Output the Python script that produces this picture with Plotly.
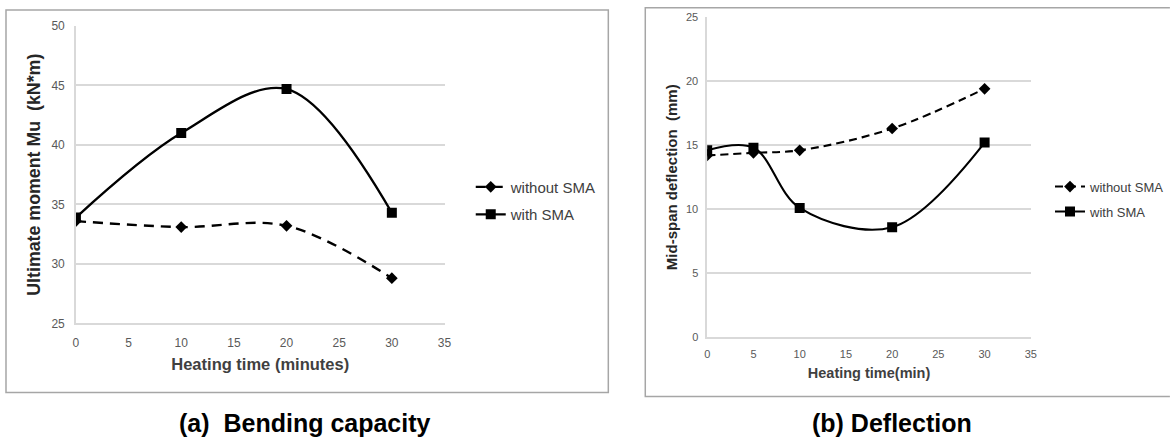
import plotly.graph_objects as go

# ---- data ----
time_a = [0, 10, 20, 30]
moment_without = [33.6, 33.1, 33.2, 28.8]
moment_with = [33.9, 41.0, 44.7, 34.3]

time_b = [0, 5, 10, 20, 30]
defl_without = [14.2, 14.4, 14.6, 16.3, 19.4]
defl_with = [14.6, 14.8, 10.1, 8.6, 15.2]

series_names = ["without SMA", "with SMA"]
caption_a = "(a)  Bending capacity"
caption_b = "(b) Deflection"

W, H = 1170, 440
# the photographed page comes out slightly shrunk and padded; compensate
SX, BX = 0.99, 3.0
SY, BY = 0.967, 6.0
def pxf(x):          # figure-pixel -> paper
    return x / W
def pyf(y):
    return 1 - y / H
def px(x):           # reference-pixel -> paper
    return pxf((x - BX) / SX)
def py(y):
    return pyf((y - BY) / SY)

FONT = "Liberation Sans"
TICK = "#595959"
GRID = "#d9d9d9"

fig = go.Figure()

def add_pair(xs, y_wo, y_w, xa, ya, leg, dash, lw):
    fig.add_trace(go.Scatter(
        x=xs, y=y_wo, name=series_names[0], xaxis=xa, yaxis=ya, legend=leg,
        legendgroup=leg + "a",
        mode="lines+markers", line=dict(color="black", width=lw, dash=dash, shape="spline", smoothing=1),
        marker=dict(symbol="diamond", size=9, color="black")))
    fig.add_trace(go.Scatter(
        x=xs, y=y_w, name=series_names[1], xaxis=xa, yaxis=ya, legend=leg,
        legendgroup=leg + "b",
        mode="lines+markers", line=dict(color="black", width=lw, shape="spline", smoothing=1),
        marker=dict(symbol="square", size=10, color="black")))

add_pair(time_a, moment_without, moment_with, "x", "y", "legend", "10px,7px", 2.4)
add_pair(time_b, defl_without, defl_with, "x2", "y2", "legend2", "8px,5px", 2.1)

def xaxis_cfg(domain, anchor, title, tsize, ftsize, tstand, standoff):
    return dict(domain=domain, range=[0, 35], dtick=5, anchor=anchor,
                showgrid=False, showline=True, linecolor=GRID, linewidth=1.5,
                ticks="", zeroline=False, ticklabelstandoff=tstand,
                tickfont=dict(family=FONT, color=TICK, size=ftsize),
                title=dict(text="<b>" + title + "</b>", font=dict(size=tsize, color="#404040"), standoff=standoff))

def yaxis_cfg(domain, anchor, rng, title, tsize, ftsize, tstand, standoff):
    return dict(domain=domain, range=rng, dtick=5, anchor=anchor,
                showgrid=True, gridcolor=GRID, gridwidth=1.5, showline=True, linecolor=GRID, linewidth=1.5,
                zeroline=False, ticks="", ticklabelstandoff=tstand,
                tickfont=dict(family=FONT, color=TICK, size=ftsize),
                title=dict(text="<b>" + title + "</b>", font=dict(size=tsize, color="#262626"), standoff=standoff))

fig.update_layout(
    width=W, height=H, margin=dict(l=0, r=0, t=0, b=0),
    paper_bgcolor="white", plot_bgcolor="white",
    font=dict(family=FONT, color="#404040"),
    xaxis=xaxis_cfg([px(76), px(445)], "y", "Heating time (minutes)", 16.5, 12, 7, 10),
    yaxis=yaxis_cfg([py(322), py(25)], "x", [25, 50], "Ultimate moment Mu  (kN*m)", 17.8, 12, 7, 6),
    xaxis2=xaxis_cfg([px(708), px(1032)], "y2", "Heating time(min)", 14.5, 11, 6, 8),
    yaxis2=yaxis_cfg([py(336), py(16)], "x2", [0, 25], "Mid-span deflection  (mm)", 15, 11, 5, 5),
    legend=dict(x=pxf(473), xanchor="left", y=pyf(169), yanchor="top", bgcolor="rgba(0,0,0,0)",
                font=dict(size=15, color="#404040", family=FONT), tracegroupgap=5, itemwidth=30),
    legend2=dict(x=pxf(1059), xanchor="left", y=pyf(170), yanchor="top", bgcolor="rgba(0,0,0,0)",
                 font=dict(size=13, color="#404040", family=FONT), tracegroupgap=5, itemwidth=30),
    showlegend=True,
)

# panel borders
fig.add_shape(type="rect", xref="paper", yref="paper", x0=px(6), x1=px(609), y0=py(391), y1=py(9),
              line=dict(color="#a6a6a6", width=1.5))
fig.add_shape(type="path", xref="paper", yref="paper",
              path=f"M {pxf(1180)},{pyf(0.8)} L {px(646)},{pyf(0.8)} L {px(646)},{py(395)} L {pxf(1180)},{py(395)}",
              line=dict(color="#a6a6a6", width=1.5))

fig.add_annotation(text="<b>" + caption_a + "</b>", xref="paper", yref="paper", x=px(305), y=pyf(429.5),
                   showarrow=False, font=dict(size=25, family=FONT, color="black"), xanchor="center", yanchor="middle")
fig.add_annotation(text="<b>" + caption_b + "</b>", xref="paper", yref="paper", x=px(892.5), y=pyf(429.5),
                   showarrow=False, font=dict(size=25, family=FONT, color="black"), xanchor="center", yanchor="middle")

# remove the default 8px page margin as soon as the script runs
page_css = ("}); var s=document.createElement('style');"
            "s.textContent='html,body{margin:0;padding:0;overflow:hidden;}';"
            "document.head.appendChild(s); (function(){")

fig.write_html("out.html", config={"displayModeBar": False}, post_script=page_css)
